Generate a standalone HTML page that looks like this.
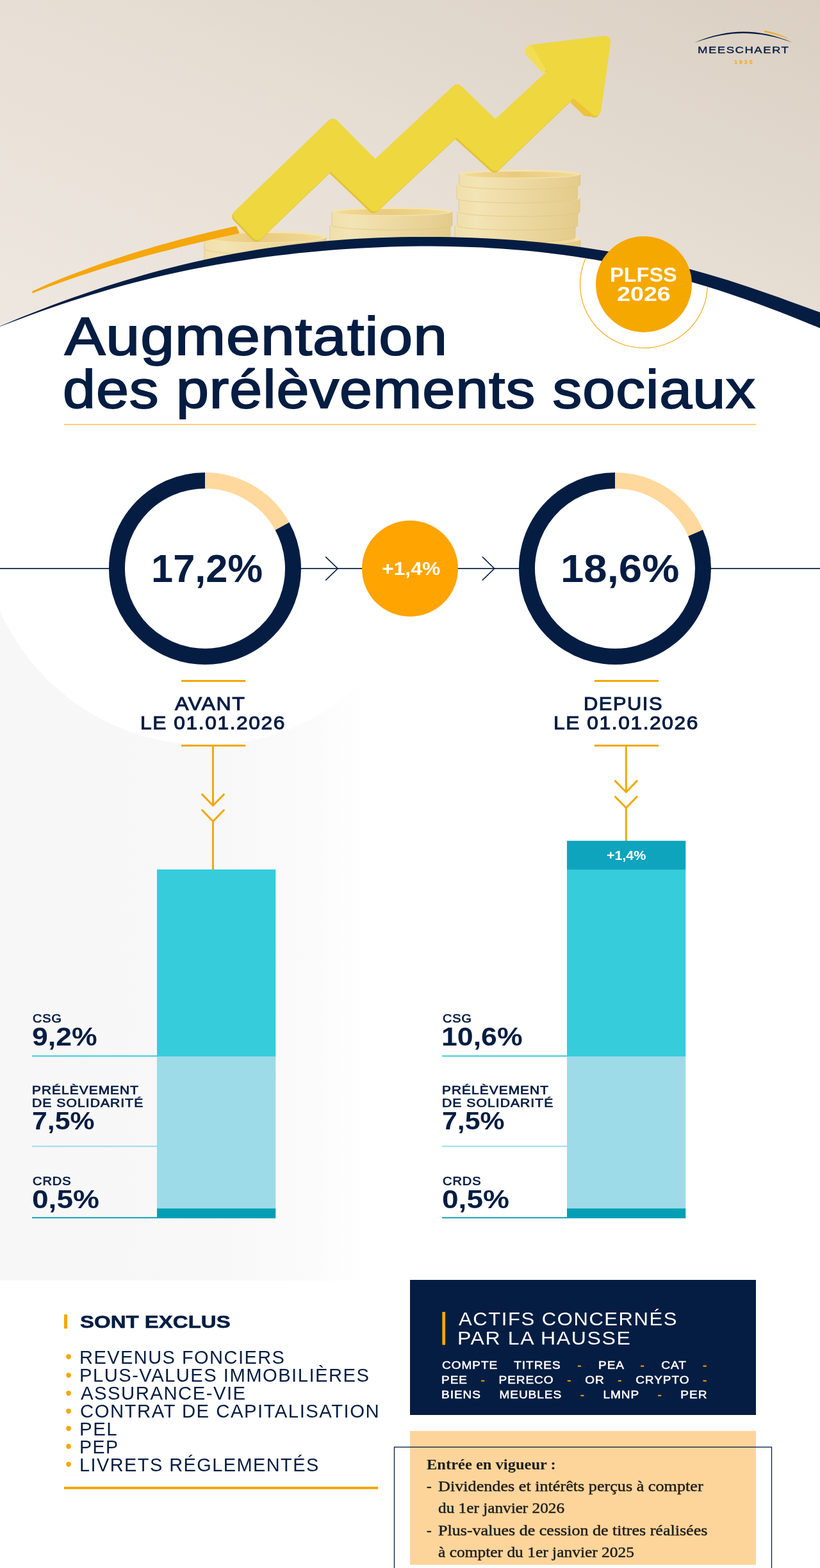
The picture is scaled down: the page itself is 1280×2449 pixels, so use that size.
<!DOCTYPE html>
<html lang="fr">
<head>
<meta charset="utf-8">
<title>Augmentation des prélèvements sociaux - PLFSS 2026</title>
<meta name="viewport" content="width=1280">
<style>
html,body{margin:0;padding:0;background:#ffffff;}
body{width:1280px;height:2449px;font-family:"Liberation Sans",Arial,Helvetica,sans-serif;}
#page{position:relative;width:1280px;height:2449px;overflow:hidden;background:#ffffff;}
#g{position:absolute;left:0;top:0;width:1280px;height:2449px;display:block;}
.t{position:absolute;margin:0;padding:0;white-space:nowrap;line-height:1;font-weight:400;transform-origin:0 0;font-kerning:normal;}
.t b{font-weight:inherit;color:#f5a70b;-webkit-text-stroke-color:#f5a70b;}
</style>
</head>
<body>
<main id="page">
<svg id="g" role="img" aria-label="Illustration" width="1280" height="2449" viewBox="0 0 1280 2449">
<defs>
<linearGradient id="bg" x1="0" y1="1" x2="1" y2="0"><stop offset="0" stop-color="#eee8e1"/><stop offset="0.5" stop-color="#e7dfd5"/><stop offset="1" stop-color="#dacfc2"/></linearGradient>
<linearGradient id="cs" x1="0" y1="0" x2="1" y2="0"><stop offset="0" stop-color="#f0dfab"/><stop offset="0.16" stop-color="#f3e4b5"/><stop offset="0.55" stop-color="#ecd8a0"/><stop offset="1" stop-color="#e3cb8b"/></linearGradient>
<linearGradient id="ct" x1="0" y1="0" x2="1" y2="0"><stop offset="0" stop-color="#f2da98"/><stop offset="0.45" stop-color="#e9ca80"/><stop offset="1" stop-color="#f2da98"/></linearGradient>
<linearGradient id="ar" x1="0" y1="1" x2="1" y2="0"><stop offset="0" stop-color="#efd846"/><stop offset="1" stop-color="#ebd23c"/></linearGradient>
</defs>
<rect x="0" y="0" width="1280" height="540" fill="url(#bg)"/>
<path d="M319.0,384.0 L319.0,420.0 A95.0,9.0 0 0 0 509.0,420.0 L509.0,384.0 Z" fill="url(#cs)" stroke="#e0c27a" stroke-width="0.7"/><ellipse cx="414.0" cy="384.0" rx="95.0" ry="9.0" fill="#f6e3aa"/><ellipse cx="414.0" cy="384.8" rx="88.0" ry="6.8" fill="url(#ct)"/>
<path d="M319.0,370.5 L319.0,388.0 A95.0,9.5 0 0 0 509.0,388.0 L509.0,370.5 Z" fill="url(#cs)" stroke="#e0c27a" stroke-width="0.7"/><ellipse cx="414.0" cy="370.5" rx="95.0" ry="9.5" fill="#f6e3aa"/><ellipse cx="414.0" cy="371.3" rx="88.0" ry="7.3" fill="url(#ct)"/>
<path d="M515.0,352.0 L515.0,380.0 A94.0,7.0 0 0 0 703.0,380.0 L703.0,352.0 Z" fill="url(#cs)" stroke="#e0c27a" stroke-width="0.7"/><ellipse cx="609.0" cy="352.0" rx="94.0" ry="7.0" fill="#f6e3aa"/><ellipse cx="609.0" cy="352.8" rx="87.0" ry="4.8" fill="url(#ct)"/>
<path d="M518.0,330.5 L518.0,352.0 A94.0,7.0 0 0 0 706.0,352.0 L706.0,330.5 Z" fill="url(#cs)" stroke="#e0c27a" stroke-width="0.7"/><ellipse cx="612.0" cy="330.5" rx="94.0" ry="7.0" fill="#f6e3aa"/><ellipse cx="612.0" cy="331.3" rx="87.0" ry="4.8" fill="url(#ct)"/>
<path d="M718.0,374.0 L718.0,392.0 A94.0,7.0 0 0 0 906.0,392.0 L906.0,374.0 Z" fill="url(#cs)" stroke="#e0c27a" stroke-width="0.7"/><ellipse cx="812.0" cy="374.0" rx="94.0" ry="7.0" fill="#f6e3aa"/><ellipse cx="812.0" cy="374.8" rx="87.0" ry="4.8" fill="url(#ct)"/>
<path d="M710.0,352.0 L710.0,371.0 A94.0,7.0 0 0 0 898.0,371.0 L898.0,352.0 Z" fill="url(#cs)" stroke="#e0c27a" stroke-width="0.7"/><ellipse cx="804.0" cy="352.0" rx="94.0" ry="7.0" fill="#f6e3aa"/><ellipse cx="804.0" cy="352.8" rx="87.0" ry="4.8" fill="url(#ct)"/>
<path d="M713.8,331.0 L713.8,352.4 A94.0,7.0 0 0 0 901.8,352.4 L901.8,331.0 Z" fill="url(#cs)" stroke="#e0c27a" stroke-width="0.7"/><ellipse cx="807.8" cy="331.0" rx="94.0" ry="7.0" fill="#f6e3aa"/><ellipse cx="807.8" cy="331.8" rx="87.0" ry="4.8" fill="url(#ct)"/>
<path d="M716.5,310.0 L716.5,331.0 A94.3,7.0 0 0 0 905.1,331.0 L905.1,310.0 Z" fill="url(#cs)" stroke="#e0c27a" stroke-width="0.7"/><ellipse cx="810.8" cy="310.0" rx="94.3" ry="7.0" fill="#f6e3aa"/><ellipse cx="810.8" cy="310.8" rx="87.3" ry="4.8" fill="url(#ct)"/>
<path d="M713.0,289.0 L713.0,309.9 A94.3,7.0 0 0 0 901.6,309.9 L901.6,289.0 Z" fill="url(#cs)" stroke="#e0c27a" stroke-width="0.7"/><ellipse cx="807.3" cy="289.0" rx="94.3" ry="7.0" fill="#f6e3aa"/><ellipse cx="807.3" cy="289.8" rx="87.3" ry="4.8" fill="url(#ct)"/>
<path d="M716.8,272.0 L716.8,288.6 A94.5,7.0 0 0 0 905.8,288.6 L905.8,272.0 Z" fill="url(#cs)" stroke="#e0c27a" stroke-width="0.7"/><ellipse cx="811.3" cy="272.0" rx="94.5" ry="7.0" fill="#f6e3aa"/><ellipse cx="811.3" cy="272.8" rx="87.5" ry="4.8" fill="url(#ct)"/>
<path d="M50,455 C130,418.5 240,381 368.8,353 L373.8,364.3 C270,387 150,418 50.8,458 Z" fill="#f5a70b"/>
<polygon points="372.9,335.9 519.5,194.2 585.4,260.8 713.8,140.6 773.1,198.4 867.3,110.9 831.3,78.8 944.2,65.0 929.1,172.2 893.2,142.8 773.2,258.0 712.1,202.6 584.7,321.6 515.9,255.9 401.7,365.9" fill="#e3c236" stroke="#e3c236" stroke-width="18.0" stroke-linejoin="round" transform="translate(-1.6,2.4)"/>
<polygon points="372.9,335.9 519.5,194.2 585.4,260.8 713.8,140.6 773.1,198.4 867.3,110.9 831.3,78.8 944.2,65.0 929.1,172.2 893.2,142.8 773.2,258.0 712.1,202.6 584.7,321.6 515.9,255.9 401.7,365.9" fill="#eed73f" stroke="#eed73f" stroke-width="18.0" stroke-linejoin="round"/>
<polygon points="829.9,70.5 853.5,110.6 846,113.2 818.6,82 821,74.5" fill="#f2dd55"/>
<polygon points="894.3,152.9 927.5,180.8 920,182.6 912,181 890.6,160.6" fill="#ebc43a"/>
<polygon points="0,509.6 16,502.8 32,496.1 48,489.7 64,483.4 80,477.3 96,471.3 112,465.5 128,459.9 144,454.4 160,449.1 176,444.0 192,439.0 208,434.2 224,429.5 240,425.1 256,420.8 272,416.7 288,412.7 304,409.0 320,405.4 336,402.0 352,398.8 368,395.7 384,392.9 400,390.2 416,387.7 432,385.4 448,383.2 464,381.2 480,379.4 496,377.8 512,376.3 528,375.0 544,373.8 560,372.8 576,372.0 592,371.3 608,370.7 624,370.3 640,370.0 656,369.9 672,369.9 688,370.0 704,370.3 720,370.7 736,371.3 752,372.0 768,372.8 784,373.7 800,374.8 816,376.1 832,377.5 848,379.0 864,380.7 880,382.6 896,384.6 912,386.8 928,389.2 944,391.7 960,394.4 976,397.4 992,400.5 1008,403.8 1024,407.3 1040,411.0 1056,414.9 1072,419.1 1088,423.4 1104,427.9 1120,432.7 1136,437.6 1152,442.7 1168,448.0 1184,453.4 1200,459.0 1216,464.6 1232,470.4 1248,476.2 1264,482.0 1280,487.8 1280,540 0,540" fill="#051d42"/>
<polygon points="0,509.9 16,503.9 32,497.9 48,492.1 64,486.3 80,480.7 96,475.3 112,470.0 128,464.9 144,459.9 160,455.2 176,450.5 192,446.1 208,441.8 224,437.7 240,433.8 256,430.1 272,426.5 288,423.1 304,419.8 320,416.7 336,413.8 352,411.0 368,408.4 384,405.9 400,403.5 416,401.3 432,399.3 448,397.4 464,395.6 480,394.0 496,392.5 512,391.1 528,389.8 544,388.7 560,387.7 576,386.9 592,386.2 608,385.6 624,385.1 640,384.8 656,384.6 672,384.6 688,384.7 704,385.0 720,385.4 736,385.9 752,386.6 768,387.5 784,388.5 800,389.7 816,391.1 832,392.6 848,394.3 864,396.2 880,398.3 896,400.5 912,403.0 928,405.6 944,408.4 960,411.5 976,414.7 992,418.1 1008,421.8 1024,425.6 1040,429.6 1056,433.9 1072,438.3 1088,443.0 1104,447.8 1120,452.8 1136,458.0 1152,463.4 1168,469.0 1184,474.8 1200,480.7 1216,486.8 1232,493.0 1248,499.4 1264,505.9 1280,512.5 1280,540 0,540" fill="#ffffff"/>
<defs><linearGradient id="gg" x1="0" y1="0" x2="1" y2="0"><stop offset="0" stop-color="#f7f7f7"/><stop offset="0.6" stop-color="#f8f8f8"/><stop offset="0.85" stop-color="#fbfbfb"/><stop offset="1" stop-color="#ffffff"/></linearGradient></defs>
<rect x="0" y="800" width="575" height="1200" fill="url(#gg)"/>
<circle cx="322" cy="811" r="352.5" fill="#ffffff"/>
<rect x="0" y="887.1" width="172" height="1.7" fill="#051d42"/>
<rect x="468" y="887.1" width="98" height="1.7" fill="#051d42"/>
<rect x="714" y="887.1" width="98" height="1.7" fill="#051d42"/>
<rect x="1108" y="887.1" width="172" height="1.7" fill="#051d42"/>
<path d="M508.70000000000005,870.1 L527.2,888 L508.70000000000005,905.9" fill="none" stroke="#051d42" stroke-width="1.6" stroke-linecap="round" stroke-linejoin="miter"/>
<path d="M753.3,870.1 L771.8,888 L753.3,905.9" fill="none" stroke="#051d42" stroke-width="1.6" stroke-linecap="round" stroke-linejoin="miter"/>
<path d="M440.49,821.76 A137.5,137.5 0 1 1 320.00,750.50" fill="none" stroke="#051d42" stroke-width="25"/><path d="M320.00,750.50 A137.5,137.5 0 0 1 440.49,821.76" fill="none" stroke="#fed89c" stroke-width="25"/>
<path d="M1085.67,832.21 A137.5,137.5 0 1 1 960.00,750.50" fill="none" stroke="#051d42" stroke-width="25"/><path d="M960.00,750.50 A137.5,137.5 0 0 1 1085.67,832.21" fill="none" stroke="#fed89c" stroke-width="25"/>
<circle cx="640" cy="888" r="75" fill="#ffa400"/>
<rect x="283" y="1062" width="100.2" height="3" fill="#f5a70b"/>
<rect x="283" y="1163" width="100.2" height="3" fill="#f5a70b"/>
<rect x="927.8" y="1062" width="100.2" height="3" fill="#f5a70b"/>
<rect x="927.8" y="1163" width="100.2" height="3" fill="#f5a70b"/>
<rect x="331" y="1165" width="3" height="93" fill="#f5a70b"/>
<rect x="331" y="1281" width="3" height="78" fill="#f5a70b"/>
<path d="M314.7,1239.9 L332.5,1258.2 L350.3,1239.9" fill="none" stroke="#f5a70b" stroke-width="3" stroke-linecap="butt" stroke-linejoin="miter"/>
<path d="M314.7,1264.5 L332.5,1282.8 L350.3,1264.5" fill="none" stroke="#f5a70b" stroke-width="3" stroke-linecap="butt" stroke-linejoin="miter"/>
<rect x="975.8" y="1165" width="3" height="72" fill="#f5a70b"/>
<rect x="975.8" y="1260" width="3" height="54" fill="#f5a70b"/>
<path d="M959.5,1218.9 L977.3,1237.2 L995.0999999999999,1218.9" fill="none" stroke="#f5a70b" stroke-width="3" stroke-linecap="butt" stroke-linejoin="miter"/>
<path d="M959.5,1243.5 L977.3,1261.8 L995.0999999999999,1243.5" fill="none" stroke="#f5a70b" stroke-width="3" stroke-linecap="butt" stroke-linejoin="miter"/>
<rect x="245" y="1358" width="185.3" height="292.5" fill="#36ccdc"/>
<rect x="245" y="1650" width="185.3" height="237.7" fill="#9ddbe9"/>
<rect x="245" y="1887.4" width="185.3" height="15.4" fill="#049fb5"/>
<rect x="50" y="1648.4" width="196" height="2" fill="#36ccdc"/>
<rect x="50" y="1789.4" width="196" height="2" fill="#9ddbea"/>
<rect x="50" y="1901" width="196" height="1.8" fill="#049fb5"/>
<rect x="885" y="1358" width="185.3" height="292.5" fill="#36ccdc"/>
<rect x="885" y="1650" width="185.3" height="237.7" fill="#9ddbe9"/>
<rect x="885" y="1887.4" width="185.3" height="15.4" fill="#049fb5"/>
<rect x="690" y="1648.4" width="196" height="2" fill="#36ccdc"/>
<rect x="690" y="1789.4" width="196" height="2" fill="#9ddbea"/>
<rect x="690" y="1901" width="196" height="1.8" fill="#049fb5"/>
<rect x="885" y="1313.2" width="185.3" height="45" fill="#0ea4be"/>
<rect x="100" y="2053" width="5" height="22" fill="#f5a70b"/>
<rect x="100" y="2322" width="490" height="4" fill="#f5a70b"/>
<rect x="640" y="1999" width="540" height="211" fill="#051d42"/>
<rect x="690.3" y="2049" width="4.8" height="51.5" fill="#f5a70b"/>
<rect x="640" y="2235" width="540" height="209" fill="#fdd59b"/>
<rect x="615.5" y="2260.2" width="589" height="220" fill="none" stroke="#051d42" stroke-width="1.3"/>
<clipPath id="wc"><polygon points="0,509.9 16,503.9 32,497.9 48,492.1 64,486.3 80,480.7 96,475.3 112,470.0 128,464.9 144,459.9 160,455.2 176,450.5 192,446.1 208,441.8 224,437.7 240,433.8 256,430.1 272,426.5 288,423.1 304,419.8 320,416.7 336,413.8 352,411.0 368,408.4 384,405.9 400,403.5 416,401.3 432,399.3 448,397.4 464,395.6 480,394.0 496,392.5 512,391.1 528,389.8 544,388.7 560,387.7 576,386.9 592,386.2 608,385.6 624,385.1 640,384.8 656,384.6 672,384.6 688,384.7 704,385.0 720,385.4 736,385.9 752,386.6 768,387.5 784,388.5 800,389.7 816,391.1 832,392.6 848,394.3 864,396.2 880,398.3 896,400.5 912,403.0 928,405.6 944,408.4 960,411.5 976,414.7 992,418.1 1008,421.8 1024,425.6 1040,429.6 1056,433.9 1072,438.3 1088,443.0 1104,447.8 1120,452.8 1136,458.0 1152,463.4 1168,469.0 1184,474.8 1200,480.7 1216,486.8 1232,493.0 1248,499.4 1264,505.9 1280,512.5 1280,700 0,700"/></clipPath>
<circle cx="1005" cy="444" r="99.5" fill="none" stroke="#f5a70b" stroke-width="1.2" clip-path="url(#wc)"/>
<circle cx="1005" cy="444" r="75" fill="#f5a800"/>
<rect x="100" y="662" width="1080" height="2" fill="#fbd080"/>
<path d="M1084,66.8 C1110,55 1138,49.6 1160,49.6 C1186,49.6 1212,55.5 1237,66.6 C1212,57 1186,52 1160,52 C1138,52 1112,56.5 1084,66.8 Z" fill="#051d42"/>
<path d="M1193.5,48.0 C1206,50.5 1218,54.5 1229.8,59.8 C1218,55.8 1206,52.3 1193.3,49.6 Z" fill="#f5a70b" stroke="#f5a70b" stroke-width="0.6"/>
</svg>
<div class="t" style="left:1088.80px;top:69.85px;font-size:15.31px;color:#051d42;letter-spacing:1.225px;transform:scaleX(1.2126);-webkit-text-stroke:0.37px #051d42">MEESCHAERT</div>
<div class="t" style="left:1146.00px;top:91.78px;font-size:9.59px;font-weight:700;color:#f5a70b;letter-spacing:2.686px;transform:scaleX(0.9732)">1935</div>
<div class="t" style="left:952.00px;top:414.24px;font-size:31.25px;font-weight:700;color:#ffffff;transform:scaleX(1.0408)">PLFSS</div>
<div class="t" style="left:963.00px;top:443.54px;font-size:31.25px;font-weight:700;color:#ffffff;transform:scaleX(1.2059)">2026</div>
<h1 class="t" style="left:101.00px;top:483.79px;font-size:82.98px;color:#051d42;letter-spacing:0.830px;transform:scaleX(1.1457);-webkit-text-stroke:1.91px #051d42">Augmentation</h1>
<h1 class="t" style="left:98.00px;top:567.29px;font-size:82.98px;color:#051d42;letter-spacing:0.830px;transform:scaleX(1.1048);-webkit-text-stroke:1.91px #051d42">des prélèvements sociaux</h1>
<div class="t" style="left:236.00px;top:857.30px;font-size:61.77px;font-weight:700;color:#051d42;transform:scaleX(0.9942)">17,2%</div>
<div class="t" style="left:875.20px;top:857.30px;font-size:61.77px;font-weight:700;color:#051d42;transform:scaleX(1.0580)">18,6%</div>
<div class="t" style="left:596.00px;top:873.32px;font-size:29.51px;font-weight:700;color:#ffffff;transform:scaleX(1.0797)">+1,4%</div>
<div class="t" style="left:273.00px;top:1084.10px;font-size:29.39px;color:#051d42;letter-spacing:1.470px;transform:scaleX(1.0960);-webkit-text-stroke:1.03px #051d42">AVANT</div>
<div class="t" style="left:218.75px;top:1114.10px;font-size:29.39px;color:#051d42;letter-spacing:1.470px;transform:scaleX(1.0796);-webkit-text-stroke:1.03px #051d42">LE 01.01.2026</div>
<div class="t" style="left:911.00px;top:1084.10px;font-size:29.39px;color:#051d42;letter-spacing:1.470px;transform:scaleX(1.0499);-webkit-text-stroke:1.03px #051d42">DEPUIS</div>
<div class="t" style="left:863.75px;top:1114.10px;font-size:29.39px;color:#051d42;letter-spacing:1.470px;transform:scaleX(1.0796);-webkit-text-stroke:1.03px #051d42">LE 01.01.2026</div>
<div class="t" style="left:947.00px;top:1326.46px;font-size:20.71px;font-weight:700;color:#ffffff;transform:scaleX(1.0345)">+1,4%</div>
<div class="t" style="left:50.80px;top:1582.05px;font-size:18.41px;color:#051d42;letter-spacing:0.920px;transform:scaleX(1.0721);-webkit-text-stroke:0.74px #051d42">CSG</div>
<div class="t" style="left:49.80px;top:1598.96px;font-size:40.55px;font-weight:700;color:#051d42;transform:scaleX(1.1001)">9,2%</div>
<div class="t" style="left:49.80px;top:1693.59px;font-size:18.13px;color:#051d42;letter-spacing:0.907px;transform:scaleX(1.1531);-webkit-text-stroke:0.73px #051d42">PRÉLÈVEMENT</div>
<div class="t" style="left:49.80px;top:1714.29px;font-size:18.13px;color:#051d42;letter-spacing:0.907px;transform:scaleX(1.1651);-webkit-text-stroke:0.73px #051d42">DE SOLIDARITÉ</div>
<div class="t" style="left:49.80px;top:1730.93px;font-size:39.53px;font-weight:700;color:#051d42;transform:scaleX(1.0842)">7,5%</div>
<div class="t" style="left:50.80px;top:1836.29px;font-size:18.13px;color:#051d42;letter-spacing:0.907px;transform:scaleX(1.1009);-webkit-text-stroke:0.73px #051d42">CRDS</div>
<div class="t" style="left:49.80px;top:1853.83px;font-size:40.12px;font-weight:700;color:#051d42;transform:scaleX(1.1486)">0,5%</div>
<div class="t" style="left:690.80px;top:1582.05px;font-size:18.41px;color:#051d42;letter-spacing:0.920px;transform:scaleX(1.0721);-webkit-text-stroke:0.74px #051d42">CSG</div>
<div class="t" style="left:688.80px;top:1598.96px;font-size:40.55px;font-weight:700;color:#051d42;transform:scaleX(1.1019)">10,6%</div>
<div class="t" style="left:689.80px;top:1693.59px;font-size:18.13px;color:#051d42;letter-spacing:0.907px;transform:scaleX(1.1531);-webkit-text-stroke:0.73px #051d42">PRÉLÈVEMENT</div>
<div class="t" style="left:689.80px;top:1714.29px;font-size:18.13px;color:#051d42;letter-spacing:0.907px;transform:scaleX(1.1651);-webkit-text-stroke:0.73px #051d42">DE SOLIDARITÉ</div>
<div class="t" style="left:689.80px;top:1730.93px;font-size:39.53px;font-weight:700;color:#051d42;transform:scaleX(1.0842)">7,5%</div>
<div class="t" style="left:690.80px;top:1836.29px;font-size:18.13px;color:#051d42;letter-spacing:0.907px;transform:scaleX(1.1009);-webkit-text-stroke:0.73px #051d42">CRDS</div>
<div class="t" style="left:689.80px;top:1853.83px;font-size:40.12px;font-weight:700;color:#051d42;transform:scaleX(1.1486)">0,5%</div>
<h2 class="t" style="left:125.00px;top:2049.56px;font-size:28.53px;font-weight:700;color:#051d42;transform:scaleX(1.1570);-webkit-text-stroke:0.57px #051d42">SONT EXCLUS</h2>
<div class="t li" style="left:124.00px;top:2106.33px;font-size:28.78px;color:#051d42;letter-spacing:1.439px;transform:scaleX(1.0084)">REVENUS FONCIERS</div>
<div class="t bul" style="left:102.00px;top:2105.33px;font-size:28.78px;color:#f5a70b">•</div>
<div class="t li" style="left:124.00px;top:2133.63px;font-size:28.78px;color:#051d42;letter-spacing:1.439px;transform:scaleX(1.0156)">PLUS-VALUES IMMOBILIÈRES</div>
<div class="t bul" style="left:102.00px;top:2133.63px;font-size:28.78px;color:#f5a70b">•</div>
<div class="t li" style="left:126.00px;top:2161.63px;font-size:28.78px;color:#051d42;letter-spacing:1.439px;transform:scaleX(1.0196)">ASSURANCE-VIE</div>
<div class="t bul" style="left:102.00px;top:2161.63px;font-size:28.78px;color:#f5a70b">•</div>
<div class="t li" style="left:125.00px;top:2189.63px;font-size:28.78px;color:#051d42;letter-spacing:1.439px;transform:scaleX(1.0198)">CONTRAT DE CAPITALISATION</div>
<div class="t bul" style="left:102.00px;top:2189.63px;font-size:28.78px;color:#f5a70b">•</div>
<div class="t li" style="left:124.00px;top:2218.33px;font-size:28.78px;color:#051d42;letter-spacing:1.439px;transform:scaleX(1.0245)">PEL</div>
<div class="t bul" style="left:102.00px;top:2217.33px;font-size:28.78px;color:#f5a70b">•</div>
<div class="t li" style="left:124.00px;top:2246.23px;font-size:28.78px;color:#051d42;letter-spacing:1.439px;transform:scaleX(0.9964)">PEP</div>
<div class="t bul" style="left:102.00px;top:2245.23px;font-size:28.78px;color:#f5a70b">•</div>
<div class="t li" style="left:124.00px;top:2274.23px;font-size:28.78px;color:#051d42;letter-spacing:1.439px;transform:scaleX(1.0054)">LIVRETS RÉGLEMENTÉS</div>
<div class="t bul" style="left:102.00px;top:2273.23px;font-size:28.78px;color:#f5a70b">•</div>
<h2 class="t" style="left:716.40px;top:2044.65px;font-size:29.94px;color:#ffffff;letter-spacing:1.497px;transform:scaleX(1.0364)">ACTIFS CONCERNÉS</h2>
<h2 class="t" style="left:714.40px;top:2075.15px;font-size:29.94px;color:#ffffff;letter-spacing:1.497px;transform:scaleX(1.0708)">PAR LA HAUSSE</h2>
<div class="t" style="left:690.20px;top:2123.76px;font-size:16.99px;color:#ffffff;letter-spacing:0.850px;word-spacing:17.232px;transform:scaleX(1.1200);-webkit-text-stroke:0.51px #ffffff">COMPTE TITRES <b>-</b> PEA <b>-</b> CAT <b>-</b></div>
<div class="t" style="left:689.20px;top:2146.76px;font-size:16.99px;color:#ffffff;letter-spacing:0.850px;word-spacing:12.857px;transform:scaleX(1.1200);-webkit-text-stroke:0.51px #ffffff">PEE <b>-</b> PERECO <b>-</b> OR <b>-</b> CRYPTO <b>-</b></div>
<div class="t" style="left:689.20px;top:2169.76px;font-size:16.99px;color:#ffffff;letter-spacing:0.850px;word-spacing:19.964px;transform:scaleX(1.1200);-webkit-text-stroke:0.51px #ffffff">BIENS MEUBLES <b>-</b> LMNP <b>-</b> PER</div>
<div class="t" style="left:666.00px;top:2276.00px;font-size:23.66px;font-family:'Liberation Serif', Georgia, serif;font-weight:700;color:#1d1d1b;transform:scaleX(1.0363)">Entrée en vigueur :</div>
<div class="t" style="left:666.00px;top:2311.36px;font-size:22.96px;font-family:'Liberation Serif', Georgia, serif;color:#1d1d1b;-webkit-text-stroke:0.46px #1d1d1b">-</div>
<div class="t" style="left:684.00px;top:2311.36px;font-size:22.96px;font-family:'Liberation Serif', Georgia, serif;color:#1d1d1b;transform:scaleX(1.1405);-webkit-text-stroke:0.46px #1d1d1b">Dividendes et intérêts perçus à compter</div>
<div class="t" style="left:684.00px;top:2344.86px;font-size:22.96px;font-family:'Liberation Serif', Georgia, serif;color:#1d1d1b;transform:scaleX(1.1006);-webkit-text-stroke:0.46px #1d1d1b">du 1er janvier 2026</div>
<div class="t" style="left:666.00px;top:2380.36px;font-size:22.96px;font-family:'Liberation Serif', Georgia, serif;color:#1d1d1b;-webkit-text-stroke:0.46px #1d1d1b">-</div>
<div class="t" style="left:684.00px;top:2380.36px;font-size:22.96px;font-family:'Liberation Serif', Georgia, serif;color:#1d1d1b;transform:scaleX(1.1351);-webkit-text-stroke:0.46px #1d1d1b">Plus-values de cession de titres réalisées</div>
<div class="t" style="left:684.00px;top:2413.86px;font-size:22.96px;font-family:'Liberation Serif', Georgia, serif;color:#1d1d1b;transform:scaleX(1.1087);-webkit-text-stroke:0.46px #1d1d1b">à compter du 1er janvier 2025</div>
</main>
</body>
</html>
